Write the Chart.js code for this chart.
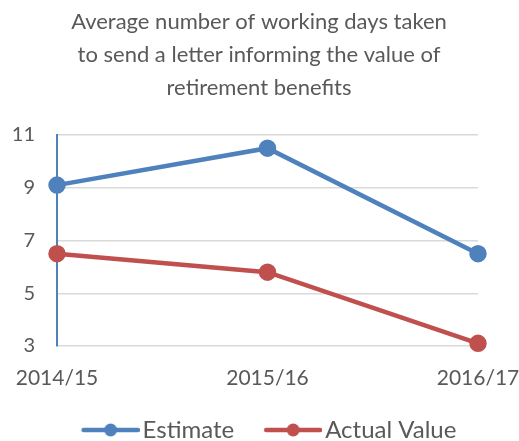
<!DOCTYPE html>
<head>
    <title>retirement benefits chart</title>
    <script src="https://cdn.jsdelivr.net/npm/chart.js"></script>
    <style>
        body { margin: 0; background: white; }
        #box { width: 519px; height: 441px; }
    </style>
</head>
<body>
<div id="box">
    <canvas id="lineChart" width="519" height="441"></canvas>
</div>
<script>
const years = ['2014/15', '2015/16', '2016/17'];
const estimate = [9.1, 10.5, 6.5];
const actualValue = [6.5, 5.8, 3.1];
const yTicks = [3, 5, 7, 9, 11];

const blue = '#4f81bd';
const red = '#c0504d';
const grey = '#595959';

// line + dot picture for the legend, the left part is left empty on purpose (gap between items)
function legendMark(color) {
    const c = document.createElement('canvas');
    c.width = 87;
    c.height = 16;
    const g = c.getContext('2d');
    g.strokeStyle = color;
    g.lineWidth = 4.5;
    g.lineCap = 'round';
    g.beginPath();
    g.moveTo(31, 8);
    g.lineTo(85, 8);
    g.stroke();
    g.fillStyle = color;
    g.beginPath();
    g.arc(58, 8, 6.5, 0, Math.PI * 2);
    g.fill();
    return c;
}
const marks = [legendMark(blue), legendMark(red)];

// title and legend are centred on the whole picture in excel, not on the plot
const boxShift = {
    id: 'boxShift',
    afterLayout(chart) {
        const lg = chart.legend;
        lg.top += 11;
        lg.bottom += 11;
        lg.left += 20;
        lg.right += 20;
        const t = chart.titleBlock;
        t.left += 20;
        t.right += 20;
    }
};

new Chart(document.getElementById('lineChart'), {
    type: 'line',
    data: {
        labels: years,
        datasets: [{
            label: 'Estimate',
            data: estimate,
            borderColor: blue,
            backgroundColor: blue,
            borderWidth: 4.5,
            pointRadius: 6.5,
            pointHoverRadius: 6.5,
            tension: 0,
            clip: false
        }, {
            label: 'Actual Value',
            data: actualValue,
            borderColor: red,
            backgroundColor: red,
            borderWidth: 4.5,
            pointRadius: 6.5,
            pointHoverRadius: 6.5,
            tension: 0,
            clip: false
        }]
    },
    plugins: [boxShift],
    options: {
        responsive: false,
        animation: false,
        layout: { padding: { left: 0, right: 41, top: 0, bottom: 0 } },
        plugins: {
            title: {
                display: true,
                text: ['Average number of working days taken', 'to send a letter informing the value of', 'retirement benefits'],
                color: grey,
                font: { family: 'Lato', size: 22, weight: 'normal', lineHeight: 1.5 },
                padding: { top: 5, bottom: 31 }
            },
            legend: {
                position: 'bottom',
                labels: {
                    usePointStyle: true,
                    pointStyleWidth: 69,
                    color: grey,
                    font: { family: 'Lato', size: 24 },
                    padding: 10,
                    generateLabels: function(chart) {
                        return chart.data.datasets.map((ds, i) => ({
                            text: ds.label,
                            fillStyle: ds.borderColor,
                            strokeStyle: ds.borderColor,
                            fontColor: grey,
                            lineWidth: 0,
                            pointStyle: marks[i],
                            datasetIndex: i,
                            hidden: false
                        }));
                    }
                }
            },
            tooltip: { enabled: false }
        },
        scales: {
            x: {
                grid: { display: false },
                border: { display: false },
                ticks: {
                    color: grey,
                    font: { family: 'Lato', size: 21 },
                    maxRotation: 0,
                    padding: 12
                },
                afterFit: function(scale) {
                    scale.height = 51;
                    scale.paddingLeft = 0;
                    scale.paddingRight = 0;
                }
            },
            y: {
                min: 3,
                max: 11,
                afterBuildTicks: function(scale) {
                    scale.ticks = yTicks.map(v => ({ value: v }));
                },
                grid: { color: '#d9d9d9', lineWidth: 1.5, drawTicks: false },
                border: { color: blue, width: 2 },
                ticks: {
                    color: grey,
                    font: { family: 'Lato', size: 20 },
                    padding: 22
                },
                afterFit: function(scale) {
                    scale.width = 57;
                }
            }
        }
    }
});
</script>
</body>
